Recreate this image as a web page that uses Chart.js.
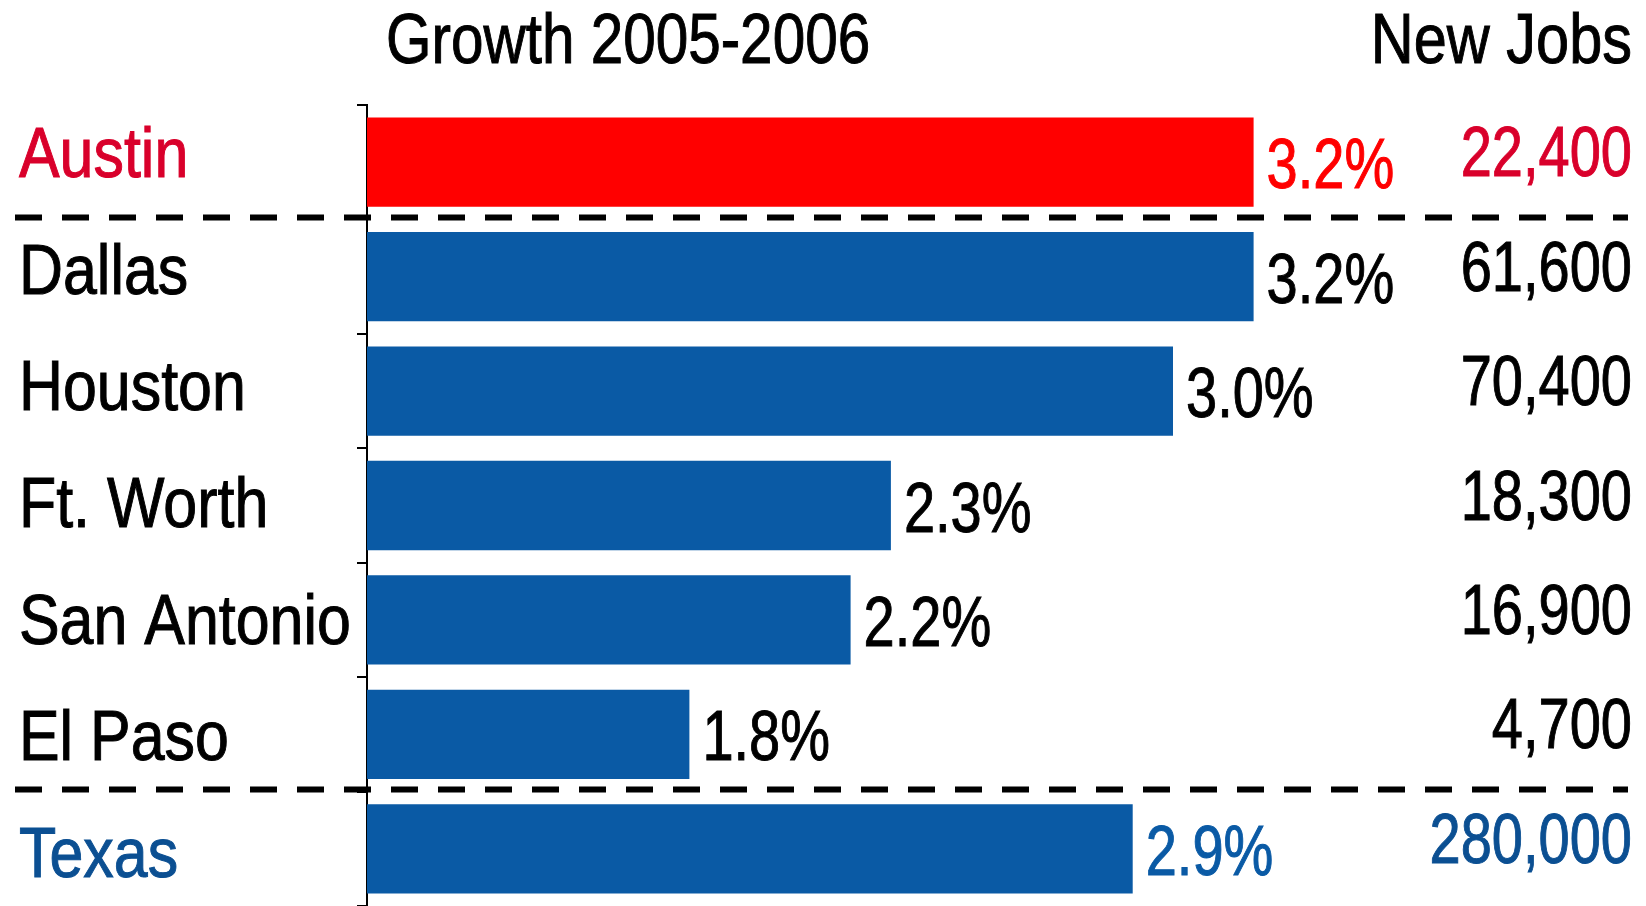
<!DOCTYPE html>
<html>
<head>
<meta charset="utf-8">
<script src="https://cdn.jsdelivr.net/npm/chart.js@4"></script>
<style>
  body { margin: 0; background: #fff; }
  canvas { display: block; }
</style>
</head>
<body>
<canvas id="myChart" width="1646" height="906"></canvas>
<script>
const cities = ['Austin', 'Dallas', 'Houston', 'Ft. Worth', 'San Antonio', 'El Paso', 'Texas']
const growth = [3.2, 3.2, 3.0, 2.3, 2.2, 1.8, 2.9]
const newJobs = [22400, 61600, 70400, 18300, 16900, 4700, 280000]
const growthTitle = 'Growth 2005-2006'
const jobsTitle = 'New Jobs'

const FONT = '70px "Liberation Sans", Arial, sans-serif'
const RED = '#FF0000'
const BLUE = '#0A5AA5'
const nameColors = ['#D9002B', '#000', '#000', '#000', '#000', '#000', '#0B4F92']
const pctColors = [RED, '#000', '#000', '#000', '#000', '#000', BLUE]
const barColors = cities.map((c, i) => i === 0 ? RED : BLUE)

// condensed look: squeeze the text horizontally, thicken it a little
function squeezeText(ctx, text, x, y, align, sx) {
    ctx.save()
    ctx.translate(x, y)
    ctx.scale(sx, 1)
    ctx.textAlign = align
    ctx.strokeStyle = ctx.fillStyle
    ctx.lineWidth = 1
    ctx.fillText(text, 0, 0)
    ctx.strokeText(text, 0, 0)
    ctx.restore()
}

// dashed separators, headers, city names and value labels
const extras = {
    id: 'extras',
    afterDatasetsDraw(chart) {
        const ctx = chart.ctx
        const y = chart.scales.y
        const meta = chart.getDatasetMeta(0)
        ctx.save()

        ctx.strokeStyle = '#000'
        ctx.lineWidth = 6
        ctx.setLineDash([27, 20])
        ;[0.5, 5.5].forEach(v => {
            const py = y.getPixelForValue(v) - 2
            ctx.beginPath()
            ctx.moveTo(15, py)
            ctx.lineTo(1628, py)
            ctx.stroke()
        })
        ctx.setLineDash([])

        ctx.font = FONT
        ctx.textBaseline = 'alphabetic'
        ctx.fillStyle = '#000'
        squeezeText(ctx, growthTitle, 386, 63, 'left', 0.835)
        squeezeText(ctx, jobsTitle, 1632, 63, 'right', 0.85)

        meta.data.forEach((bar, i) => {
            ctx.fillStyle = nameColors[i]
            squeezeText(ctx, cities[i], 19, bar.y + 15 + i * 2.2, 'left', 0.87)
            squeezeText(ctx, newJobs[i].toLocaleString('en-US'), 1632, bar.y + 14, 'right', 0.8)
            ctx.fillStyle = pctColors[i]
            squeezeText(ctx, growth[i].toFixed(1) + '%', bar.x + 13, bar.y + 26, 'left', 0.8)
        })
        ctx.restore()
    }
}

new Chart(document.getElementById('myChart'), {
    type: 'bar',
    data: {
        labels: cities,
        datasets: [{
            data: growth,
            backgroundColor: barColors,
            borderWidth: 0,
            categoryPercentage: 1,
            barPercentage: 0.78
        }]
    },
    options: {
        indexAxis: 'y',
        responsive: false,
        animation: false,
        layout: { padding: { left: 19, top: 105, right: 70, bottom: 0 } },
        plugins: { legend: { display: false }, tooltip: { enabled: false } },
        scales: {
            x: { type: 'linear', min: 1, max: 4, display: false },
            y: {
                offset: true,
                afterFit(scale) {
                    scale.width = 348
                    scale.paddingTop = 0
                    scale.paddingBottom = 0
                },
                border: { display: true, color: '#000', width: 2 },
                grid: { drawOnChartArea: false, drawTicks: true, tickLength: 10, color: '#000', lineWidth: 2, offset: true },
                ticks: { display: false }
            }
        }
    },
    plugins: [extras]
})
</script>
</body>
</html>
